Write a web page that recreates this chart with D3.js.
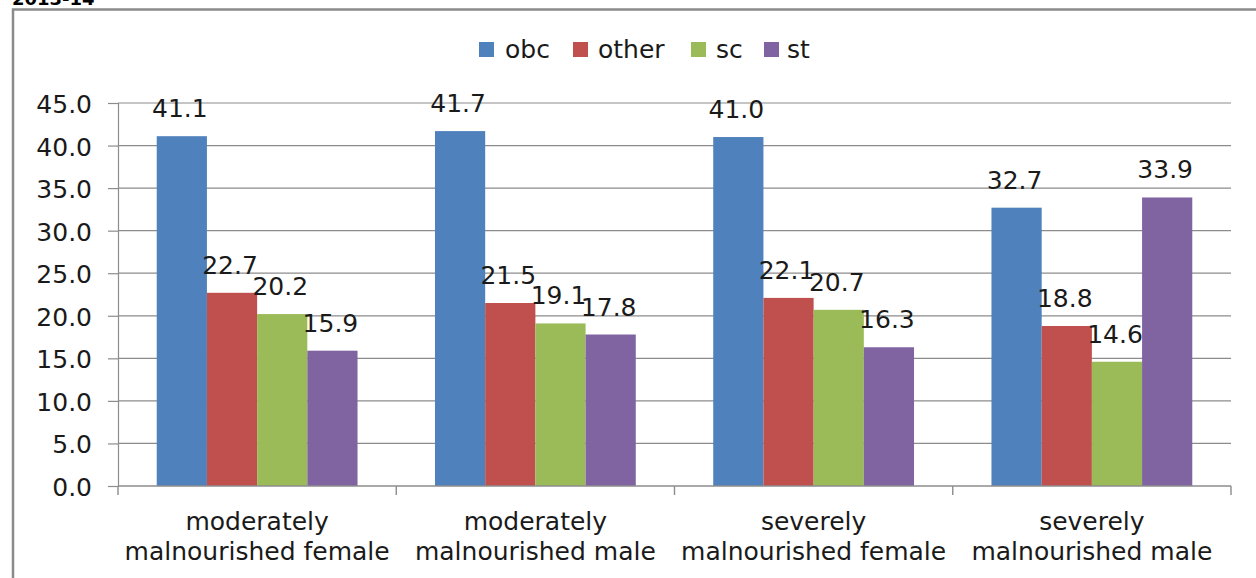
<!DOCTYPE html>
<html>
<head>
<meta charset="utf-8">
<script src="https://cdn.jsdelivr.net/npm/d3@7"></script>
<style>
  html, body { margin: 0; padding: 0; background: #ffffff; }
  svg { display: block; }
  text { font-family: "DejaVu Sans", Verdana, sans-serif; fill: #1a1a1a; }
</style>
</head>
<body>
<svg id="chart" width="1256" height="578"></svg>
<script>
// Malnourishment share by social group, 2013-14
const categories = [
  ["moderately", "malnourished female"],
  ["moderately", "malnourished male"],
  ["severely", "malnourished female"],
  ["severely", "malnourished male"]
];
const seriesNames = ["obc", "other", "sc", "st"];
const obc   = [41.1, 41.7, 41.0, 32.7];
const other = [22.7, 21.5, 22.1, 18.8];
const sc    = [20.2, 19.1, 20.7, 14.6];
const st    = [15.9, 17.8, 16.3, 33.9];
const yTicks = [0, 5, 10, 15, 20, 25, 30, 35, 40, 45];
const colors = ["#4F81BD", "#C0504D", "#9BBB59", "#8064A2"];

const seriesValues = [obc, other, sc, st];
const svg = d3.select("#chart");

const plot = { left: 118, right: 1231, top: 103, bottom: 486 };

// Title peeking above the frame
svg.append("text")
  .attr("x", 12).attr("y", 5)
  .style("font-weight", "bold")
  .style("font-size", "18px")
  .style("fill", "#000")
  .text("2013-14");

// Outer chart frame (runs past the right and bottom edges)
svg.append("rect")
  .attr("x", 13).attr("y", 9.5)
  .attr("width", 1300).attr("height", 700)
  .attr("fill", "none")
  .attr("stroke", "#8a8a8a")
  .attr("stroke-width", 2.5);

// Group ticks sit on the band boundaries
const bandStep = (plot.right - plot.left) / categories.length;
const groupStart = i => plot.left + i * bandStep;
const barW = 50.2;
const groupPad = (bandStep - barW * seriesNames.length) / 2;

const x1 = d3.scaleBand()
  .domain(seriesNames)
  .range([0, barW * seriesNames.length])
  .padding(0);

const y = d3.scaleLinear().domain([0, 45]).range([plot.bottom, plot.top]);

// Gridlines
svg.append("g")
  .selectAll("line")
  .data(yTicks.filter(t => t > 0))
  .join("line")
  .attr("x1", plot.left).attr("x2", plot.right)
  .attr("y1", d => y(d)).attr("y2", d => y(d))
  .attr("stroke", "#8c8c8c")
  .attr("stroke-width", 1.2);

// Y axis
const yAxis = d3.axisLeft(y)
  .tickValues(yTicks)
  .tickFormat(d3.format(".1f"))
  .tickSize(10)
  .tickPadding(16);
const yg = svg.append("g")
  .attr("transform", `translate(${plot.left},0)`)
  .call(yAxis);
yg.select(".domain").attr("stroke", "#8c8c8c").attr("stroke-width", 1.2);
yg.selectAll(".tick line").attr("stroke", "#8c8c8c").attr("stroke-width", 1.2);
yg.selectAll(".tick text")
  .style("font-size", "25px")
  .style("font-family", "'DejaVu Sans', Verdana, sans-serif")
  .attr("fill", "#1a1a1a")
  .attr("dy", "0.38em");

// Bars
const groups = svg.append("g")
  .selectAll("g")
  .data(categories.map((c, i) => i))
  .join("g")
  .attr("transform", i => `translate(${groupStart(i) + groupPad},0)`);

groups.selectAll("rect")
  .data(i => seriesNames.map((s, k) => ({ s, k, v: seriesValues[k][i] })))
  .join("rect")
  .attr("x", d => x1(d.s))
  .attr("width", x1.bandwidth())
  .attr("y", d => y(d.v))
  .attr("height", d => y(0) - y(d.v))
  .attr("fill", d => colors[d.k]);

// Data labels
groups.selectAll("text.val")
  .data(i => seriesNames.map((s, k) => ({ s, k, v: seriesValues[k][i] })))
  .join("text")
  .attr("class", "val")
  .attr("x", d => x1(d.s) + x1.bandwidth() / 2 - 2)
  .attr("y", d => y(d.v) - 19)
  .attr("text-anchor", "middle")
  .style("font-size", "25px")
  .text(d => d3.format(".1f")(d.v));

// X axis line and group ticks
svg.append("line")
  .attr("x1", plot.left).attr("x2", plot.right)
  .attr("y1", plot.bottom).attr("y2", plot.bottom)
  .attr("stroke", "#8c8c8c").attr("stroke-width", 1.4);
svg.append("g")
  .selectAll("line")
  .data(d3.range(categories.length + 1))
  .join("line")
  .attr("x1", i => groupStart(i)).attr("x2", i => groupStart(i))
  .attr("y1", plot.bottom).attr("y2", plot.bottom + 9)
  .attr("stroke", "#8c8c8c").attr("stroke-width", 1.4);

// Category labels
const cat = svg.append("g")
  .selectAll("text")
  .data(categories)
  .join("text")
  .attr("text-anchor", "middle")
  .style("font-size", "25px")
  .attr("transform", (d, i) => `translate(${groupStart(i) + bandStep / 2},0)`);
cat.selectAll("tspan")
  .data(d => d)
  .join("tspan")
  .attr("x", 0)
  .attr("y", (d, j) => 530 + j * 30)
  .text(d => d);

// Legend
const legendItems = [
  { name: "obc", sx: 479, tx: 505 },
  { name: "other", sx: 573, tx: 598 },
  { name: "sc", sx: 691, tx: 716 },
  { name: "st", sx: 764, tx: 787 }
];
const lg = svg.append("g");
lg.selectAll("rect")
  .data(legendItems)
  .join("rect")
  .attr("x", d => d.sx).attr("y", 42)
  .attr("width", 15).attr("height", 15)
  .attr("fill", (d, i) => colors[i]);
lg.selectAll("text")
  .data(legendItems)
  .join("text")
  .attr("x", d => d.tx).attr("y", 58)
  .style("font-size", "25px")
  .text(d => d.name);
</script>
</body>
</html>
